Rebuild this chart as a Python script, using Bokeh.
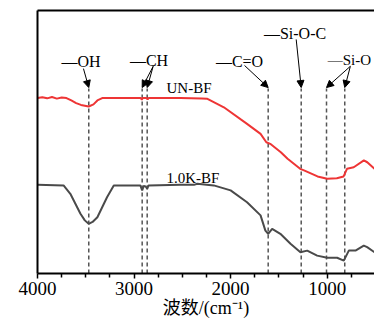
from bokeh.plotting import figure
from bokeh.models import (Range1d, FixedTicker, LinearAxis, Arrow, NormalHead,
                          ColumnDataSource)
from bokeh.core.properties import value
from bokeh.embed import file_html
from bokeh.resources import INLINE

# ---- data (wavenumber cm^-1, relative transmittance, arbitrary units) ----
wn_un = [4000, 3950, 3900, 3850, 3800, 3750, 3700, 3650, 3600, 3550, 3470, 3420,
         3380, 3330, 3000, 2930, 2920, 2910, 2870, 2860, 2850, 2520, 2300, 2240,
         2070, 1830, 1690, 1630, 1590, 1480, 1410, 1280, 1240, 1100, 1000, 900,
         830, 795, 725, 620, 585, 510, 450]
t_un = [66.7, 67.0, 66.6, 67.1, 66.5, 66.9, 66.7, 65.8, 64.8, 64.1, 63.5, 64.3,
        65.8, 66.7, 66.7, 66.7, 66.1, 66.7, 66.7, 66.2, 66.7, 66.7, 66.5, 66.4,
        63.2, 56.9, 53.1, 49.9, 49.3, 46.1, 43.6, 39.8, 39.2, 36.9, 36.0, 36.2,
        36.9, 39.8, 40.4, 43.0, 42.3, 39.8, 38.4]

wn_k = [4000, 3730, 3660, 3555, 3510, 3470, 3430, 3380, 3280, 3210, 2935, 2916,
        2900, 2880, 2864, 2850, 2520, 2380, 2345, 2175, 2000, 1830, 1690, 1640,
        1611, 1570, 1485, 1380, 1277, 1207, 1104, 1000, 897, 828, 776, 707, 621,
        586, 510, 450]
t_k = [33.7, 33.5, 30.3, 22.7, 20.2, 18.9, 19.6, 21.4, 29.0, 33.5, 33.5, 31.6,
       33.3, 33.1, 32.2, 33.5, 33.7, 33.7, 34.1, 33.5, 31.6, 27.1, 22.1, 16.3,
       15.1, 17.0, 15.1, 11.3, 8.1, 8.7, 6.8, 6.0, 6.0, 4.9, 8.7, 8.7, 10.6,
       10.0, 8.1, 7.0]

# characteristic bands (dashed marker lines)
band_wn = [3469, 2916, 2864, 1611, 1269, 1007, 818]
band_top = 70.3

# group labels and their arrows
group_text = ["—OH", "—CH", "—C=O", "—Si-O-C"]
group_x = [3550, 2845, 1908, 1333]
group_y = [80.6, 81.0, 80.7, 91.3]
sio_text = "—Si-O"
sio_x, sio_y = 995, 81.0

arrow_x0 = [3524, 2802, 2802, 1856, 1321, 760, 760]
arrow_y0 = [77.9, 78.8, 78.8, 79.1, 89.0, 78.8, 78.8]
arrow_x1 = [3469, 2916, 2864, 1611, 1269, 1007, 818]
arrow_y1 = [70.7, 70.7, 70.7, 70.7, 70.7, 70.7, 70.7]

series_names = ["UN-BF", "1.0K-BF"]
series_label_x = [2664, 2664]
series_label_y = [70.7, 36.5]

x_ticks = [4000, 3000, 2000, 1000]
x_minor = [3750, 3500, 3250, 2750, 2500, 2250, 1750, 1500, 1250, 750]

SERIF = "'Liberation Serif', 'Noto Sans CJK SC'"

p = figure(width=374, height=324, output_backend="svg", toolbar_location=None,
           x_range=Range1d(4000, 510), y_range=Range1d(0, 100),
           min_border_left=37, min_border_right=0, min_border_top=10,
           min_border_bottom=51)
p.outline_line_color = None
p.grid.visible = False
p.background_fill_color = "white"
p.border_fill_color = "white"

# bottom axis
xa = p.xaxis[0]
xa.ticker = FixedTicker(ticks=x_ticks, minor_ticks=x_minor)
xa.axis_line_width = 2
xa.axis_line_color = "black"
xa.major_tick_in = 0
xa.major_tick_out = 5
xa.minor_tick_in = 0
xa.minor_tick_out = 4
xa.major_tick_line_width = 1.5
xa.minor_tick_line_width = 1.5
xa.major_label_text_font = SERIF
xa.major_label_text_font_size = "19px"
xa.major_label_text_color = "black"
xa.major_label_standoff = 3
xa.axis_label = "波数/(cm⁻¹)"
xa.axis_label_text_font = SERIF
xa.axis_label_text_font_size = "18px"
xa.axis_label_text_font_style = "normal"
xa.axis_label_standoff = 0
xa.axis_label_text_color = "black"

# left axis: plain line
ya = p.yaxis[0]
ya.ticker = FixedTicker(ticks=[])
ya.major_label_text_font_size = "0px"
ya.major_tick_out = 0
ya.minor_tick_out = 0
ya.axis_line_width = 2
ya.axis_line_color = "black"

# top border as plain axis line
top = LinearAxis(ticker=FixedTicker(ticks=[]), major_label_text_font_size="0px",
                 major_tick_out=0, minor_tick_out=0, axis_line_width=2,
                 axis_line_color="black")
p.add_layout(top, "above")

# dashed band lines
p.segment(x0=band_wn, y0=[0] * len(band_wn), x1=band_wn,
          y1=[band_top] * len(band_wn), line_color="#555555", line_width=1.5,
          line_dash="4 3")

# spectra
p.line(wn_un, t_un, line_color="#ee3535", line_width=2)
p.line(wn_k, t_k, line_color="#4a4a4a", line_width=2)

# arrows
src = ColumnDataSource(dict(x0=arrow_x0, y0=arrow_y0, x1=arrow_x1, y1=arrow_y1))
p.add_layout(Arrow(source=src, x_start="x0", y_start="y0", x_end="x1", y_end="y1",
                   line_color="black", line_width=1,
                   end=NormalHead(size=7, fill_color="black", line_color="black",
                                  line_width=1)))

# labels
p.text(x=group_x, y=group_y, text=group_text, text_font=value(SERIF),
       text_font_size="16px", text_align="center", text_baseline="middle",
       text_color="black")
p.text(x=[sio_x], y=[sio_y], text=[sio_text], text_font=value(SERIF),
       text_font_size="15px", text_align="left", text_baseline="middle",
       text_color="black")
p.text(x=series_label_x, y=series_label_y, text=series_names,
       text_font=value(SERIF), text_font_size="15px", text_align="left",
       text_baseline="middle", text_color="black")

open("out.html", "w").write(file_html(p, INLINE))
